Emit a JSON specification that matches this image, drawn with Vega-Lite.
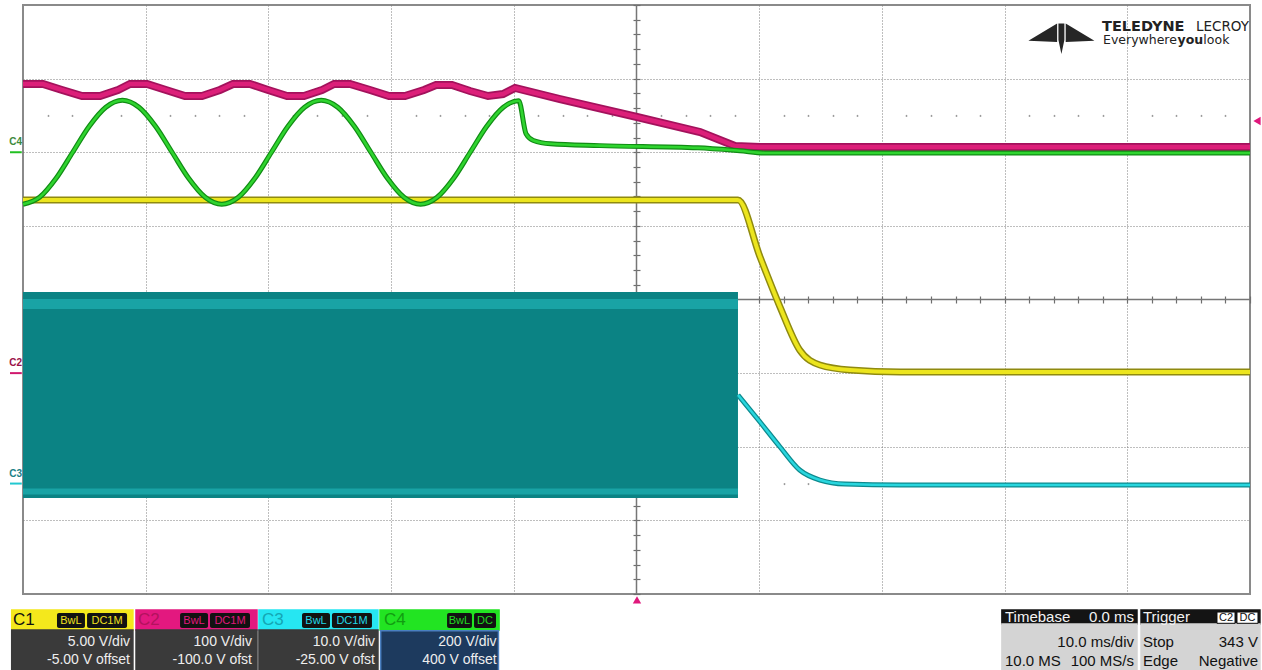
{
 "$schema": "https://vega.github.io/schema/vega-lite/v6.json",
 "width": 1227, "height": 589,
 "autosize": {"type": "none"},
 "padding": {"left": 23, "top": 5, "right": 12, "bottom": 76},
 "background": "white",
 "config": {"view": {"stroke": "#8a8a8a", "strokeWidth": 2}, "font": "Liberation Sans", "text": {"font": "Liberation Sans"}},
 "datasets": {
  "origin": [{"t": 0, "v": 0}],
  "c1": [{"t":-50,"v":1.352},{"t":8.27,"v":1.352},{"t":10.07,"v":0.577},{"t":11.7,"v":-0.102},{"t":13.3,"v":-0.686},{"t":14.95,"v":-0.89},{"t":17.4,"v":-0.958},{"t":21.5,"v":-0.985},{"t":50,"v":-0.985}],
  "c2": [{"t":-50,"v":2.927},{"t":-48.37,"v":2.927},{"t":-46.82,"v":2.846},{"t":-45.19,"v":2.764},{"t":-43.72,"v":2.764},{"t":-42.26,"v":2.846},{"t":-41.28,"v":2.927},{"t":-39.89,"v":2.927},{"t":-38.35,"v":2.846},{"t":-36.8,"v":2.764},{"t":-35.41,"v":2.764},{"t":-33.95,"v":2.846},{"t":-32.89,"v":2.927},{"t":-31.5,"v":2.927},{"t":-30.03,"v":2.846},{"t":-28.48,"v":2.764},{"t":-27.1,"v":2.764},{"t":-25.63,"v":2.846},{"t":-24.65,"v":2.927},{"t":-23.35,"v":2.927},{"t":-21.72,"v":2.846},{"t":-20.17,"v":2.764},{"t":-18.87,"v":2.764},{"t":-17.32,"v":2.846},{"t":-16.34,"v":2.914},{"t":-15.04,"v":2.914},{"t":-13.57,"v":2.832},{"t":-12.1,"v":2.764},{"t":-10.88,"v":2.791},{"t":-9.9,"v":2.873},{"t":-6.24,"v":2.723},{"t":0.04,"v":2.479},{"t":5.18,"v":2.275},{"t":8.03,"v":2.085},{"t":10.07,"v":2.071},{"t":50,"v":2.071}],
  "c3": [{"t":8.27,"v":-1.297},{"t":10.07,"v":-1.664},{"t":11.7,"v":-2.003},{"t":13.3,"v":-2.316},{"t":14.95,"v":-2.452},{"t":16.99,"v":-2.506},{"t":21.5,"v":-2.52},{"t":50,"v":-2.52}],
  "c4": [{"t":-50,"v":1.293},{"t":-48.65,"v":1.388},{"t":-47.3,"v":1.647},{"t":-45.95,"v":2.0},{"t":-44.6,"v":2.354},{"t":-43.25,"v":2.612},{"t":-41.9,"v":2.707},{"t":-40.55,"v":2.612},{"t":-39.2,"v":2.354},{"t":-37.85,"v":2.0},{"t":-36.5,"v":1.647},{"t":-35.15,"v":1.388},{"t":-33.8,"v":1.293},{"t":-32.45,"v":1.388},{"t":-31.1,"v":1.647},{"t":-29.75,"v":2.0},{"t":-28.4,"v":2.354},{"t":-27.05,"v":2.612},{"t":-25.7,"v":2.707},{"t":-24.35,"v":2.612},{"t":-23.0,"v":2.354},{"t":-21.65,"v":2.0},{"t":-20.3,"v":1.647},{"t":-18.95,"v":1.388},{"t":-17.6,"v":1.293},{"t":-16.25,"v":1.388},{"t":-14.9,"v":1.647},{"t":-13.55,"v":2.0},{"t":-12.2,"v":2.354},{"t":-10.85,"v":2.612},{"t":-9.6,"v":2.7},{"t":-9.0,"v":2.25},{"t":-8.4,"v":2.16},{"t":-7.0,"v":2.115},{"t":-3.0,"v":2.09},{"t":5.0,"v":2.06},{"t":8.4,"v":2.02},{"t":10.5,"v":1.99},{"t":50,"v":1.99}],
  "band": [{"t1":-50,"t2":8.27,"v1":0.102,"v2":-2.696}],
  "stripes": [{"t1":-50,"t2":8.27,"v1":0.007,"v2":-0.129},{"t1":-50,"t2":8.27,"v1":-2.567,"v2":-2.649}],
  "markers": [{"ch":"C4","level":2.0},{"ch":"C2","level":-1.0},{"ch":"C3","level":-2.5}],
  "trig": [{"t":50.57,"v":2.424,"kind":"level"},{"t":0.04,"v":-4.08,"kind":"time"}],
  "boxes": [
   {"t1":-50.92,"t2":-41.04,"v1":-4.217,"v2":-4.489,"part":"C1"},
   {"t1":-40.79,"t2":-30.93,"v1":-4.217,"v2":-4.489,"part":"C2"},
   {"t1":-30.77,"t2":-21.07,"v1":-4.217,"v2":-4.489,"part":"C3"},
   {"t1":-20.9,"t2":-11.2,"v1":-4.217,"v2":-4.489,"part":"C4"},
   {"t1":-50.92,"t2":-41.04,"v1":-4.489,"v2":-5.1,"part":"body"},
   {"t1":-40.79,"t2":-30.93,"v1":-4.489,"v2":-5.1,"part":"body"},
   {"t1":-30.77,"t2":-21.07,"v1":-4.489,"v2":-5.1,"part":"body"},
   {"t1":-20.85,"t2":-11.25,"v1":-4.5,"v2":-5.05,"part":"C4body"},
   {"t1":29.78,"t2":40.79,"v1":-4.217,"v2":-4.407,"part":"head"},
   {"t1":41.12,"t2":50.81,"v1":-4.217,"v2":-4.407,"part":"head"},
   {"t1":29.78,"t2":40.79,"v1":-4.407,"v2":-5.1,"part":"info"},
   {"t1":41.12,"t2":50.81,"v1":-4.407,"v2":-5.1,"part":"info"}
  ],
  "badges": [
   {"label":"BwL","t1":-47.23,"t2":-44.95,"tm":-46.09,"ch":"C1"},{"label":"DC1M","t1":-44.78,"t2":-41.52,"tm":-43.15,"ch":"C1"},
   {"label":"BwL","t1":-37.2,"t2":-34.92,"tm":-36.06,"ch":"C2"},{"label":"DC1M","t1":-34.76,"t2":-31.5,"tm":-33.13,"ch":"C2"},
   {"label":"BwL","t1":-27.26,"t2":-24.98,"tm":-26.12,"ch":"C3"},{"label":"DC1M","t1":-24.82,"t2":-21.56,"tm":-23.19,"ch":"C3"},
   {"label":"BwL","t1":-15.44,"t2":-13.41,"tm":-14.43,"ch":"C4"},{"label":"DC","t1":-13.24,"t2":-11.45,"tm":-12.35,"ch":"C4"}
  ],
  "trigBadges": [{"label":"C2","t1":47.31,"t2":48.78,"tm":48.05},{"label":"DC","t1":48.94,"t2":50.65,"tm":49.8}],
  "chanHead": [{"label":"C1","t":-50.81,"ch":"C1"},{"label":"C2","t":-40.63,"ch":"C2"},{"label":"C3","t":-30.52,"ch":"C3"},{"label":"C4","t":-20.58,"ch":"C4"}],
  "chanBody": [
   {"label":"5.00 V/div","t":-41.28,"v":-4.652},{"label":"-5.00 V offset","t":-41.28,"v":-4.896},
   {"label":"100 V/div","t":-31.34,"v":-4.652},{"label":"-100.0 V ofst","t":-31.34,"v":-4.896},
   {"label":"10.0 V/div","t":-21.31,"v":-4.652},{"label":"-25.00 V ofst","t":-21.31,"v":-4.896},
   {"label":"200 V/div","t":-11.4,"v":-4.652},{"label":"400 V offset","t":-11.4,"v":-4.896}
  ],
  "infoLeft": [{"label":"Timebase","t":30.03,"v":-4.312,"tone":"head"},{"label":"10.0 MS","t":30.03,"v":-4.91,"tone":"info"},{"label":"Trigger","t":41.28,"v":-4.312,"tone":"head"},{"label":"Stop","t":41.28,"v":-4.652,"tone":"info"},{"label":"Edge","t":41.28,"v":-4.91,"tone":"info"}],
  "infoRight": [{"label":"0.0 ms","t":40.55,"v":-4.312,"tone":"head"},{"label":"10.0 ms/div","t":40.55,"v":-4.652,"tone":"info"},{"label":"100 MS/s","t":40.55,"v":-4.91,"tone":"info"},{"label":"343 V","t":50.65,"v":-4.652,"tone":"info"},{"label":"Negative","t":50.65,"v":-4.91,"tone":"info"}],
  "logoMark": [{"t":34.63,"v":3.56}],
  "logoBig": [{"label":"TELEDYNE","t":37.94,"v":3.714}],
  "logoBig2": [{"label":"LECROY","t":45.6,"v":3.714}],
  "logoSmallBold": [{"label":"you","t":44.1,"v":3.538}],
  "logoSmall": [{"label":"Everywhere","t":38.02,"v":3.538},{"label":"look","t":46.2,"v":3.538}]
 },
 "resolve": {"scale": {"color": "independent", "fill": "independent", "stroke": "independent"}, "axis": {"x": "independent", "y": "independent"}},
 "layer": [
  {"data": {"name": "origin"}, "mark": {"type": "rule", "color": "#767676", "strokeWidth": 1.5},
   "encoding": {"x": {"field": "t", "type": "quantitative", "scale": {"domain": [-50, 50], "nice": false, "zero": false},
     "axis": {"values": [-40,-30,-20,-10,10,20,30,40], "grid": true, "gridDash": [1, 2], "gridColor": "#7c7c7c", "gridWidth": 1, "domain": false, "ticks": false, "labels": false, "title": null}}}},
  {"data": {"name": "origin"}, "mark": {"type": "rule", "color": "#767676", "strokeWidth": 1.5},
   "encoding": {"y": {"field": "v", "type": "quantitative", "scale": {"domain": [-4, 4], "nice": false, "zero": false},
     "axis": {"values": [-3,-2,-1,1,2,3], "grid": true, "gridDash": [1, 2], "gridColor": "#7c7c7c", "gridWidth": 1, "domain": false, "ticks": false, "labels": false, "title": null}}}},
  {"data": {"name": "band"}, "mark": {"type": "rect", "color": "#0b8384"},
   "encoding": {
    "x": {"field": "t1", "type": "quantitative", "scale": {"domain": [-50, 50], "nice": false, "zero": false},
      "axis": {"orient": "bottom", "offset": -298, "values": [-50,-48,-46,-44,-42,-40,-38,-36,-34,-32,-30,-28,-26,-24,-22,-20,-18,-16,-14,-12,-10,-8,-6,-4,-2,0,2,4,6,8,10,12,14,16,18,20,22,24,26,28,30,32,34,36,38,40,42,44,46,48,50], "tickSize": 7, "tickColor": "#6e6e6e", "tickWidth": 1.2, "domain": false, "labels": false, "grid": false, "title": null}},
    "x2": {"field": "t2"},
    "y": {"field": "v1", "type": "quantitative", "scale": {"domain": [-4, 4], "nice": false, "zero": false},
      "axis": {"orient": "left", "offset": -617, "values": [-4,-3.8,-3.6,-3.4,-3.2,-3,-2.8,-2.6,-2.4,-2.2,-2,-1.8,-1.6,-1.4,-1.2,-1,-0.8,-0.6,-0.4,-0.2,0,0.2,0.4,0.6,0.8,1,1.2,1.4,1.6,1.8,2,2.2,2.4,2.6,2.8,3,3.2,3.4,3.6,3.8,4], "tickSize": 7, "tickColor": "#6e6e6e", "tickWidth": 1.2, "domain": false, "labels": false, "grid": false, "title": null}},
    "y2": {"field": "v2"}}},
  {"data": {"name": "stripes"}, "mark": {"type": "rect", "color": "#19a3a5"},
   "encoding": {
    "x": {"field": "t1", "type": "quantitative", "scale": {"domain": [-50, 50], "nice": false, "zero": false},
      "axis": {"orient": "bottom", "offset": -479.6, "values": [-48,-46,-44,-42,-38,-36,-34,-32,-28,-26,-24,-22,-18,-16,-14,-12,-8,-6,-4,-2,2,4,6,8,12,14,16,18,22,24,26,28,32,34,36,38,42,44,46,48], "tickSize": 2, "tickColor": "#9a9a9a", "tickWidth": 1.5, "domain": false, "labels": false, "grid": false, "title": null}},
    "x2": {"field": "t2"},
    "y": {"field": "v1", "type": "quantitative", "scale": {"domain": [-4, 4], "nice": false, "zero": false}, "axis": null},
    "y2": {"field": "v2"}}},
  {"data": {"name": "c3"}, "mark": {"type": "line", "color": "#0c8a8e", "strokeWidth": 5, "interpolate": "monotone"},
   "encoding": {
    "x": {"field": "t", "type": "quantitative", "scale": {"domain": [-50, 50], "nice": false, "zero": false},
      "axis": {"orient": "bottom", "offset": -111.4, "values": [-48,-46,-44,-42,-38,-36,-34,-32,-28,-26,-24,-22,-18,-16,-14,-12,-8,-6,-4,-2,2,4,6,8,12,14,16,18,22,24,26,28,32,34,36,38,42,44,46,48], "tickSize": 2, "tickColor": "#9a9a9a", "tickWidth": 1.5, "domain": false, "labels": false, "grid": false, "title": null}},
    "y": {"field": "v", "type": "quantitative", "scale": {"domain": [-4, 4], "nice": false, "zero": false}, "axis": null}}},
  {"data": {"name": "c3"}, "mark": {"type": "line", "color": "#29d6de", "strokeWidth": 2.5, "interpolate": "monotone"},
   "encoding": {
    "x": {"field": "t", "type": "quantitative", "scale": {"domain": [-50, 50], "nice": false, "zero": false}, "axis": null},
    "y": {"field": "v", "type": "quantitative", "scale": {"domain": [-4, 4], "nice": false, "zero": false}, "axis": null}}},
  {"data": {"name": "c1"}, "mark": {"type": "line", "color": "#8f8a10", "strokeWidth": 7, "interpolate": "monotone"},
   "encoding": {
    "x": {"field": "t", "type": "quantitative", "scale": {"domain": [-50, 50], "nice": false, "zero": false}, "axis": null},
    "y": {"field": "v", "type": "quantitative", "scale": {"domain": [-4, 4], "nice": false, "zero": false}, "axis": null}}},
  {"data": {"name": "c1"}, "mark": {"type": "line", "color": "#ece51e", "strokeWidth": 4, "interpolate": "monotone"},
   "encoding": {
    "x": {"field": "t", "type": "quantitative", "scale": {"domain": [-50, 50], "nice": false, "zero": false}, "axis": null},
    "y": {"field": "v", "type": "quantitative", "scale": {"domain": [-4, 4], "nice": false, "zero": false}, "axis": null}}},
  {"data": {"name": "c2"}, "mark": {"type": "line", "color": "#a3125c", "strokeWidth": 8, "interpolate": "linear"},
   "encoding": {
    "x": {"field": "t", "type": "quantitative", "scale": {"domain": [-50, 50], "nice": false, "zero": false}, "axis": null},
    "y": {"field": "v", "type": "quantitative", "scale": {"domain": [-4, 4], "nice": false, "zero": false}, "axis": null}}},
  {"data": {"name": "c2"}, "mark": {"type": "line", "color": "#dc1f79", "strokeWidth": 4.5, "interpolate": "linear"},
   "encoding": {
    "x": {"field": "t", "type": "quantitative", "scale": {"domain": [-50, 50], "nice": false, "zero": false}, "axis": null},
    "y": {"field": "v", "type": "quantitative", "scale": {"domain": [-4, 4], "nice": false, "zero": false}, "axis": null}}},
  {"data": {"name": "c4"}, "mark": {"type": "line", "color": "#118c14", "strokeWidth": 5, "interpolate": "monotone"},
   "encoding": {
    "x": {"field": "t", "type": "quantitative", "scale": {"domain": [-50, 50], "nice": false, "zero": false}, "axis": null},
    "y": {"field": "v", "type": "quantitative", "scale": {"domain": [-4, 4], "nice": false, "zero": false}, "axis": null}}},
  {"data": {"name": "c4"}, "mark": {"type": "line", "color": "#2fd42f", "strokeWidth": 2.6, "interpolate": "monotone"},
   "encoding": {
    "x": {"field": "t", "type": "quantitative", "scale": {"domain": [-50, 50], "nice": false, "zero": false}, "axis": null},
    "y": {"field": "v", "type": "quantitative", "scale": {"domain": [-4, 4], "nice": false, "zero": false}, "axis": null}}},
  {"data": {"name": "markers"}, "mark": {"type": "rule", "strokeWidth": 2},
   "encoding": {
    "x": {"datum": -51.06, "type": "quantitative", "scale": {"domain": [-50, 50], "nice": false, "zero": false}, "axis": null},
    "x2": {"datum": -50.1},
    "y": {"field": "level", "type": "quantitative", "scale": {"domain": [-4, 4], "nice": false, "zero": false}, "axis": null},
    "color": {"field": "ch", "type": "nominal", "scale": {"domain": ["C2", "C3", "C4"], "range": ["#d0186e", "#22c8d0", "#22c022"]}, "legend": null}}},
  {"data": {"name": "markers"}, "mark": {"type": "text", "fontSize": 10, "dy": -10, "align": "center", "fontWeight": "bold"},
   "encoding": {
    "x": {"datum": -50.6, "type": "quantitative", "scale": {"domain": [-50, 50], "nice": false, "zero": false}, "axis": null},
    "y": {"field": "level", "type": "quantitative", "scale": {"domain": [-4, 4], "nice": false, "zero": false}, "axis": null},
    "text": {"field": "ch"},
    "color": {"field": "ch", "type": "nominal", "scale": {"domain": ["C2", "C3", "C4"], "range": ["#9a1048", "#1a7f86", "#3c8a3c"]}, "legend": null}}},
  {"data": {"name": "trig"}, "mark": {"type": "point", "filled": true, "size": 70, "color": "#e0187c", "opacity": 1},
   "encoding": {
    "x": {"field": "t", "type": "quantitative", "scale": {"domain": [-50, 50], "nice": false, "zero": false}, "axis": null},
    "y": {"field": "v", "type": "quantitative", "scale": {"domain": [-4, 4], "nice": false, "zero": false}, "axis": null},
    "shape": {"field": "kind", "type": "nominal", "scale": {"domain": ["level", "time"], "range": ["triangle-left", "triangle-up"]}, "legend": null}}},
  {"data": {"name": "boxes"}, "mark": {"type": "rect", "strokeWidth": 1.5},
   "encoding": {
    "x": {"field": "t1", "type": "quantitative", "scale": {"domain": [-50, 50], "nice": false, "zero": false}, "axis": null},
    "x2": {"field": "t2"},
    "y": {"field": "v1", "type": "quantitative", "scale": {"domain": [-4, 4], "nice": false, "zero": false}, "axis": null},
    "y2": {"field": "v2"},
    "fill": {"field": "part", "type": "nominal", "scale": {"domain": ["C1", "C2", "C3", "C4", "body", "C4body", "head", "info"], "range": ["#f4e81c", "#e3187f", "#26e6f2", "#22e422", "#3a3a3a", "#1d3a5e", "#141414", "#d4d4d4"]}, "legend": null},
    "stroke": {"field": "part", "type": "nominal", "scale": {"domain": ["C1", "C2", "C3", "C4", "body", "C4body", "head", "info"], "range": ["#f4e81c", "#e3187f", "#26e6f2", "#22e422", "#3a3a3a", "#4a7fc0", "#141414", "#d4d4d4"]}, "legend": null}}},
  {"data": {"name": "badges"}, "mark": {"type": "rect", "color": "#121212", "cornerRadius": 2},
   "encoding": {
    "x": {"field": "t1", "type": "quantitative", "scale": {"domain": [-50, 50], "nice": false, "zero": false}, "axis": null},
    "x2": {"field": "t2"},
    "y": {"datum": -4.258, "type": "quantitative", "scale": {"domain": [-4, 4], "nice": false, "zero": false}, "axis": null},
    "y2": {"datum": -4.462}}},
  {"data": {"name": "badges"}, "mark": {"type": "text", "fontSize": 11, "align": "center", "baseline": "middle"},
   "encoding": {
    "x": {"field": "tm", "type": "quantitative", "scale": {"domain": [-50, 50], "nice": false, "zero": false}, "axis": null},
    "y": {"datum": -4.36, "type": "quantitative", "scale": {"domain": [-4, 4], "nice": false, "zero": false}, "axis": null},
    "text": {"field": "label"},
    "color": {"field": "ch", "type": "nominal", "scale": {"domain": ["C1", "C2", "C3", "C4"], "range": ["#f0e020", "#e0187c", "#22d8e8", "#22d822"]}, "legend": null}}},
  {"data": {"name": "trigBadges"}, "mark": {"type": "rect", "color": "#ffffff", "stroke": "#111111", "strokeWidth": 1},
   "encoding": {
    "x": {"field": "t1", "type": "quantitative", "scale": {"domain": [-50, 50], "nice": false, "zero": false}, "axis": null},
    "x2": {"field": "t2"},
    "y": {"datum": -4.245, "type": "quantitative", "scale": {"domain": [-4, 4], "nice": false, "zero": false}, "axis": null},
    "y2": {"datum": -4.398}}},
  {"data": {"name": "trigBadges"}, "mark": {"type": "text", "fontSize": 11, "align": "center", "baseline": "middle", "color": "#111111"},
   "encoding": {
    "x": {"field": "tm", "type": "quantitative", "scale": {"domain": [-50, 50], "nice": false, "zero": false}, "axis": null},
    "y": {"datum": -4.322, "type": "quantitative", "scale": {"domain": [-4, 4], "nice": false, "zero": false}, "axis": null},
    "text": {"field": "label"}}},
  {"data": {"name": "chanHead"}, "mark": {"type": "text", "fontSize": 17, "align": "left", "baseline": "middle"},
   "encoding": {
    "x": {"field": "t", "type": "quantitative", "scale": {"domain": [-50, 50], "nice": false, "zero": false}, "axis": null},
    "y": {"datum": -4.353, "type": "quantitative", "scale": {"domain": [-4, 4], "nice": false, "zero": false}, "axis": null},
    "text": {"field": "label"},
    "color": {"field": "ch", "type": "nominal", "scale": {"domain": ["C1", "C2", "C3", "C4"], "range": ["#111111", "#b3125e", "#14a6b4", "#119c11"]}, "legend": null}}},
  {"data": {"name": "chanBody"}, "mark": {"type": "text", "fontSize": 14, "align": "right", "baseline": "middle", "color": "#eeeeee"},
   "encoding": {
    "x": {"field": "t", "type": "quantitative", "scale": {"domain": [-50, 50], "nice": false, "zero": false}, "axis": null},
    "y": {"field": "v", "type": "quantitative", "scale": {"domain": [-4, 4], "nice": false, "zero": false}, "axis": null},
    "text": {"field": "label"}}},
  {"data": {"name": "infoLeft"}, "mark": {"type": "text", "fontSize": 15, "align": "left", "baseline": "middle"},
   "encoding": {
    "x": {"field": "t", "type": "quantitative", "scale": {"domain": [-50, 50], "nice": false, "zero": false}, "axis": null},
    "y": {"field": "v", "type": "quantitative", "scale": {"domain": [-4, 4], "nice": false, "zero": false}, "axis": null},
    "text": {"field": "label"},
    "color": {"field": "tone", "type": "nominal", "scale": {"domain": ["head", "info"], "range": ["#f2f2f2", "#111111"]}, "legend": null}}},
  {"data": {"name": "infoRight"}, "mark": {"type": "text", "fontSize": 15, "align": "right", "baseline": "middle"},
   "encoding": {
    "x": {"field": "t", "type": "quantitative", "scale": {"domain": [-50, 50], "nice": false, "zero": false}, "axis": null},
    "y": {"field": "v", "type": "quantitative", "scale": {"domain": [-4, 4], "nice": false, "zero": false}, "axis": null},
    "text": {"field": "label"},
    "color": {"field": "tone", "type": "nominal", "scale": {"domain": ["head", "info"], "range": ["#f2f2f2", "#111111"]}, "legend": null}}},
  {"data": {"name": "logoMark"}, "mark": {"type": "point", "filled": true, "opacity": 1, "color": "#262626", "size": 4356, "shape": "M -1 0.1 L -0.13 -0.42 L -0.13 0.14 Z M 1 0.1 L 0.13 -0.42 L 0.13 0.14 Z M -0.09 -0.42 L 0.09 -0.42 L 0.09 0.08 L 0 0.5 L -0.09 0.08 Z"},
   "encoding": {
    "x": {"field": "t", "type": "quantitative", "scale": {"domain": [-50, 50], "nice": false, "zero": false}, "axis": null},
    "y": {"field": "v", "type": "quantitative", "scale": {"domain": [-4, 4], "nice": false, "zero": false}, "axis": null}}},
  {"data": {"name": "logoBig"}, "mark": {"type": "text", "font": "DejaVu Sans", "fontSize": 14.5, "fontWeight": "bold", "align": "left", "baseline": "alphabetic", "dy": 5, "color": "#222222"},
   "encoding": {
    "x": {"field": "t", "type": "quantitative", "scale": {"domain": [-50, 50], "nice": false, "zero": false}, "axis": null},
    "y": {"field": "v", "type": "quantitative", "scale": {"domain": [-4, 4], "nice": false, "zero": false}, "axis": null},
    "text": {"field": "label"}}},
  {"data": {"name": "logoBig2"}, "mark": {"type": "text", "font": "DejaVu Sans", "fontSize": 13.5, "align": "left", "baseline": "alphabetic", "dy": 5, "color": "#222222"},
   "encoding": {
    "x": {"field": "t", "type": "quantitative", "scale": {"domain": [-50, 50], "nice": false, "zero": false}, "axis": null},
    "y": {"field": "v", "type": "quantitative", "scale": {"domain": [-4, 4], "nice": false, "zero": false}, "axis": null},
    "text": {"field": "label"}}},
  {"data": {"name": "logoSmallBold"}, "mark": {"type": "text", "font": "DejaVu Sans", "fontSize": 12.5, "fontWeight": "bold", "align": "left", "baseline": "alphabetic", "dy": 5, "color": "#222222"},
   "encoding": {
    "x": {"field": "t", "type": "quantitative", "scale": {"domain": [-50, 50], "nice": false, "zero": false}, "axis": null},
    "y": {"field": "v", "type": "quantitative", "scale": {"domain": [-4, 4], "nice": false, "zero": false}, "axis": null},
    "text": {"field": "label"}}},
  {"data": {"name": "logoSmall"}, "mark": {"type": "text", "font": "DejaVu Sans", "fontSize": 12.5, "align": "left", "baseline": "alphabetic", "dy": 5, "color": "#222222"},
   "encoding": {
    "x": {"field": "t", "type": "quantitative", "scale": {"domain": [-50, 50], "nice": false, "zero": false}, "axis": null},
    "y": {"field": "v", "type": "quantitative", "scale": {"domain": [-4, 4], "nice": false, "zero": false}, "axis": null},
    "text": {"field": "label"}}}
 ]
}
